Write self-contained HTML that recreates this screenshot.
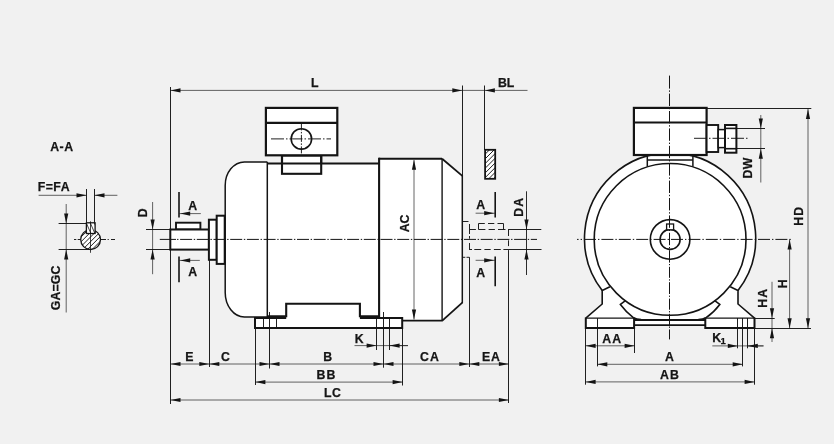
<!DOCTYPE html>
<html><head><meta charset="utf-8"><title>Motor dimension drawing</title>
<style>
html,body{margin:0;padding:0;background:#f1f1f1;}
svg{display:block;will-change:transform;}
text{font-family:"Liberation Sans",Arial,Helvetica,sans-serif;font-weight:bold;fill:#151515;stroke:#151515;stroke-width:0.25px;}
</style></head><body>
<svg width="834" height="444" viewBox="0 0 834 444">
<rect width="834" height="444" fill="#f1f1f1"/>
<text x="50.19" y="151.40" font-size="12.3" letter-spacing="0.53">A-A</text>
<text x="37.78" y="190.70" font-size="12.3" letter-spacing="0.45">F=FA</text>
<line x1="38.6" y1="195.3" x2="86.5" y2="195.3" stroke="#141414" stroke-width="0.65" stroke-linecap="butt"/>
<polygon points="86.50,195.30 76.50,193.20 76.50,197.40" fill="#141414"/>
<line x1="94.5" y1="195.3" x2="117.4" y2="195.3" stroke="#141414" stroke-width="0.65" stroke-linecap="butt"/>
<polygon points="94.50,195.30 104.50,193.20 104.50,197.40" fill="#141414"/>
<defs><clipPath id="cpc"><circle cx="90.6" cy="239.6" r="9.9"/></clipPath><clipPath id="cpk"><rect x="86.4" y="222.8" width="8.7" height="10.7"/></clipPath><clipPath id="cpb"><rect x="485.1" y="149.8" width="10.1" height="29"/></clipPath></defs>
<circle cx="90.6" cy="239.6" r="9.9" fill="#fff" stroke="none" stroke-width="0"/>
<path d="M44.00,260 L89.00,215 M48.70,260 L93.70,215 M53.40,260 L98.40,215 M58.10,260 L103.10,215 M62.80,260 L107.80,215 M67.50,260 L112.50,215 M72.20,260 L117.20,215 M76.90,260 L121.90,215 M81.60,260 L126.60,215 M86.30,260 L131.30,215" stroke="#141414" stroke-width="0.95" clip-path="url(#cpc)" fill="none"/>
<circle cx="90.6" cy="239.6" r="9.9" fill="none" stroke="#141414" stroke-width="1.3"/>
<rect x="86.4" y="222.8" width="8.7" height="10.7" fill="#fff" stroke="none" stroke-width="0"/>
<path d="M69.50,212 L83.50,244 M73.50,212 L87.50,244 M77.50,212 L91.50,244 M81.50,212 L95.50,244 M85.50,212 L99.50,244 M89.50,212 L103.50,244 M93.50,212 L107.50,244 M97.50,212 L111.50,244" stroke="#141414" stroke-width="0.8" clip-path="url(#cpk)" fill="none"/>
<rect x="86.4" y="222.8" width="8.7" height="10.7" fill="none" stroke="#141414" stroke-width="1.3"/>
<line x1="86.5" y1="189" x2="86.5" y2="222.8" stroke="#141414" stroke-width="0.95" stroke-linecap="butt"/>
<line x1="94.5" y1="189" x2="94.5" y2="222.8" stroke="#141414" stroke-width="0.95" stroke-linecap="butt"/>
<line x1="58.6" y1="223.5" x2="86.4" y2="223.5" stroke="#141414" stroke-width="0.95" stroke-linecap="butt"/>
<line x1="58.6" y1="249.5" x2="90.5" y2="249.5" stroke="#141414" stroke-width="0.95" stroke-linecap="butt"/>
<line x1="66.2" y1="204" x2="66.2" y2="312.5" stroke="#141414" stroke-width="0.65" stroke-linecap="butt"/>
<polygon points="66.20,223.50 64.10,213.50 68.30,213.50" fill="#141414"/>
<polygon points="66.20,249.50 64.10,259.50 68.30,259.50" fill="#141414"/>
<line x1="74" y1="239.5" x2="76.3" y2="239.5" stroke="#141414" stroke-width="0.95" stroke-linecap="butt"/>
<line x1="77.7" y1="239.5" x2="80.6" y2="239.5" stroke="#141414" stroke-width="0.95" stroke-linecap="butt"/>
<line x1="100.6" y1="239.5" x2="106" y2="239.5" stroke="#141414" stroke-width="0.95" stroke-linecap="butt"/>
<line x1="107.6" y1="239.5" x2="108.8" y2="239.5" stroke="#141414" stroke-width="0.95" stroke-linecap="butt"/>
<line x1="111" y1="239.5" x2="115" y2="239.5" stroke="#141414" stroke-width="0.95" stroke-linecap="butt"/>
<line x1="90.5" y1="221.3" x2="90.5" y2="252.8" stroke="#141414" stroke-width="0.8" stroke-linecap="butt"/>
<text x="60.00" y="310.30" font-size="12.3" letter-spacing="0.14" transform="rotate(-90 60.00 310.30)">GA=GC</text>
<line x1="170.5" y1="87" x2="170.5" y2="404" stroke="#141414" stroke-width="0.95" stroke-linecap="butt"/>
<line x1="209.5" y1="259.7" x2="209.5" y2="367" stroke="#141414" stroke-width="0.95" stroke-linecap="butt"/>
<line x1="462.5" y1="85.5" x2="462.5" y2="176" stroke="#141414" stroke-width="0.95" stroke-linecap="butt"/>
<line x1="484.5" y1="85.5" x2="484.5" y2="150" stroke="#141414" stroke-width="0.95" stroke-linecap="butt"/>
<line x1="170.5" y1="90.4" x2="462.3" y2="90.4" stroke="#141414" stroke-width="0.65" stroke-linecap="butt"/>
<polygon points="170.50,90.40 180.50,88.30 180.50,92.50" fill="#141414"/>
<polygon points="462.30,90.40 452.30,88.30 452.30,92.50" fill="#141414"/>
<line x1="462.3" y1="90.4" x2="527.5" y2="90.4" stroke="#141414" stroke-width="0.65" stroke-linecap="butt"/>
<polygon points="484.90,90.40 494.90,88.30 494.90,92.50" fill="#141414"/>
<text x="311.12" y="86.50" font-size="12.3">L</text>
<text x="497.98" y="86.60" font-size="12.3" letter-spacing="0.01">BL</text>
<rect x="485.1" y="149.8" width="10.1" height="29.0" fill="#fff" stroke="none" stroke-width="0"/>
<path d="M480.1,145.10 L505.1,120.10 M480.1,149.80 L505.1,124.80 M480.1,154.50 L505.1,129.50 M480.1,159.20 L505.1,134.20 M480.1,163.90 L505.1,138.90 M480.1,168.60 L505.1,143.60 M480.1,173.30 L505.1,148.30 M480.1,178.00 L505.1,153.00 M480.1,182.70 L505.1,157.70 M480.1,187.40 L505.1,162.40 M480.1,192.10 L505.1,167.10 M480.1,196.80 L505.1,171.80" stroke="#141414" stroke-width="0.95" clip-path="url(#cpb)" fill="none"/>
<rect x="485.1" y="149.8" width="10.1" height="29.0" fill="none" stroke="#141414" stroke-width="1.8"/>
<rect x="282" y="155.3" width="39.2" height="18.5" fill="#fff" stroke="#141414" stroke-width="2.1"/>
<path d="M267.3,161.9 L244.4,161.9 A19.3,23.5 0 0 0 225.2,185.4 L225.2,292.5 A19.3,24.5 0 0 0 244.4,317 L267.3,317 Z" fill="#fff" stroke="none" stroke-width="0" stroke-linejoin="miter" />
<path d="M267.3,161.9 L244.4,161.9 A19.3,23.5 0 0 0 225.2,185.4 L225.2,292.5 A19.3,24.5 0 0 0 244.4,317 L267.3,317" fill="none" stroke="#141414" stroke-width="1.5" stroke-linejoin="miter" />
<path d="M267.3,163.5 L379.1,163.5 L379.1,316.4 L359.9,316.4 L359.9,303.7 L286.2,303.7 L286.2,316.4 L267.3,316.4 Z" fill="#fff" stroke="none" stroke-width="0" stroke-linejoin="miter" />
<rect x="255" y="317.6" width="147.2" height="10.4" fill="#fff"/>
<rect x="286.2" y="303.7" width="73.7" height="20" fill="#fff"/>
<path d="M379.1,158.7 L442.1,158.7 L462.3,175.9 L462.3,302.6 L442.3,320.6 L402.2,320.6 L402.2,317.8 L379.1,317.8 Z" fill="#fff" stroke="none" stroke-width="0" stroke-linejoin="miter" />
<path d="M379.1,158.7 L442.1,158.7" fill="none" stroke="#141414" stroke-width="2.0" stroke-linejoin="miter" />
<path d="M442.1,158.7 L462.3,175.9" fill="none" stroke="#141414" stroke-width="1.8" stroke-linejoin="miter" />
<path d="M462.3,175.2 L462.3,303.2" fill="none" stroke="#141414" stroke-width="1.5" stroke-linejoin="miter" />
<path d="M462.3,302.6 L442.3,320.6" fill="none" stroke="#141414" stroke-width="1.8" stroke-linejoin="miter" />
<path d="M442.8,320.6 L402.2,320.6" fill="none" stroke="#141414" stroke-width="1.9" stroke-linejoin="miter" />
<line x1="442.1" y1="158.7" x2="442.1" y2="320.6" stroke="#141414" stroke-width="1.4" stroke-linecap="butt"/>
<line x1="267.3" y1="163.5" x2="379.1" y2="163.5" stroke="#141414" stroke-width="2.1" stroke-linecap="butt"/>
<line x1="267.3" y1="161.9" x2="267.3" y2="317" stroke="#141414" stroke-width="1.5" stroke-linecap="butt"/>
<path d="M267.3,316.3 L286.2,316.3 L286.2,303.7 L359.9,303.7 L359.9,316.3 L379.1,316.3" fill="none" stroke="#141414" stroke-width="2.1" stroke-linejoin="miter" />
<line x1="379.1" y1="157.7" x2="379.1" y2="318.6" stroke="#141414" stroke-width="2.1" stroke-linecap="butt"/>
<path d="M286.2,318.0 L255,318.0 L255,328 L402.2,328 L402.2,318.0 L359.9,318.0" fill="none" stroke="#141414" stroke-width="2.0" stroke-linejoin="miter" />
<line x1="263.5" y1="317.8" x2="263.5" y2="328" stroke="#141414" stroke-width="0.95" stroke-linecap="butt"/>
<line x1="276.5" y1="317.8" x2="276.5" y2="328" stroke="#141414" stroke-width="0.95" stroke-linecap="butt"/>
<line x1="269.5" y1="312" x2="269.5" y2="368.5" stroke="#141414" stroke-width="0.95" stroke-linecap="butt"/>
<line x1="255.5" y1="328" x2="255.5" y2="385" stroke="#141414" stroke-width="0.95" stroke-linecap="butt"/>
<line x1="402.5" y1="328" x2="402.5" y2="385.5" stroke="#141414" stroke-width="0.95" stroke-linecap="butt"/>
<line x1="376.5" y1="317.8" x2="376.5" y2="350" stroke="#141414" stroke-width="0.95" stroke-linecap="butt"/>
<line x1="389.5" y1="317.8" x2="389.5" y2="350" stroke="#141414" stroke-width="0.95" stroke-linecap="butt"/>
<line x1="383.5" y1="312" x2="383.5" y2="367.7" stroke="#141414" stroke-width="0.95" stroke-linecap="butt"/>
<rect x="282" y="155.3" width="39.2" height="18.5" fill="none" stroke="#141414" stroke-width="2.1"/>
<rect x="265.9" y="107.9" width="71.4" height="47.4" fill="#fff" stroke="#141414" stroke-width="2.2"/>
<line x1="265.9" y1="122.9" x2="337.3" y2="122.9" stroke="#141414" stroke-width="2.1" stroke-linecap="butt"/>
<circle cx="301.4" cy="138.9" r="10.2" fill="none" stroke="#141414" stroke-width="1.6"/>
<line x1="271" y1="138.9" x2="331" y2="138.9" stroke="#141414" stroke-width="0.95" stroke-dasharray="13 2 1.5 2" stroke-linecap="butt"/>
<line x1="301.4" y1="123.4" x2="301.4" y2="155" stroke="#141414" stroke-width="0.95" stroke-dasharray="7 1.5 1.5 1.5" stroke-linecap="butt"/>
<rect x="176" y="222.7" width="24.4" height="6.8" fill="#fff" stroke="#141414" stroke-width="1.9"/>
<rect x="170.3" y="229.5" width="38.6" height="20.1" fill="#fff" stroke="#141414" stroke-width="2.0"/>
<rect x="208.9" y="219.7" width="7.8" height="40.1" fill="#fff" stroke="#141414" stroke-width="2.0"/>
<rect x="216.7" y="215.7" width="8.0" height="48.2" fill="#fff" stroke="#141414" stroke-width="2.0"/>
<line x1="159.8" y1="239.4" x2="176" y2="239.4" stroke="#141414" stroke-width="1.0" stroke-linecap="butt"/>
<line x1="175.4" y1="239.4" x2="537" y2="239.4" stroke="#141414" stroke-width="1.0" stroke-dasharray="0 1.65 1.4 1.65 12 0" stroke-linecap="butt"/>
<line x1="414.0" y1="160" x2="414.0" y2="319.5" stroke="#141414" stroke-width="0.65" stroke-linecap="butt"/>
<polygon points="414.00,159.80 411.90,169.80 416.10,169.80" fill="#141414"/>
<polygon points="414.00,319.60 411.90,309.60 416.10,309.60" fill="#141414"/>
<text x="409.20" y="232.31" font-size="12.3" letter-spacing="-0.12" transform="rotate(-90 409.20 232.31)">AC</text>
<line x1="146" y1="229.5" x2="170.5" y2="229.5" stroke="#141414" stroke-width="0.95" stroke-linecap="butt"/>
<line x1="146" y1="249.5" x2="170.5" y2="249.5" stroke="#141414" stroke-width="0.95" stroke-linecap="butt"/>
<line x1="152.6" y1="202" x2="152.6" y2="274.2" stroke="#141414" stroke-width="0.65" stroke-linecap="butt"/>
<polygon points="152.60,229.50 150.50,219.50 154.70,219.50" fill="#141414"/>
<polygon points="152.60,249.50 150.50,259.50 154.70,259.50" fill="#141414"/>
<text x="147.50" y="217.19" font-size="12.3" transform="rotate(-90 147.50 217.19)">D</text>
<line x1="179.0" y1="192" x2="179.0" y2="217.4" stroke="#141414" stroke-width="1.6" stroke-linecap="butt"/>
<line x1="179.3" y1="213.6" x2="200.8" y2="213.6" stroke="#141414" stroke-width="0.65" stroke-linecap="butt"/>
<polygon points="180.20,213.60 190.20,211.50 190.20,215.70" fill="#141414"/>
<text x="188.27" y="209.60" font-size="12.3">A</text>
<line x1="179.0" y1="256.4" x2="179.0" y2="282.3" stroke="#141414" stroke-width="1.6" stroke-linecap="butt"/>
<line x1="179.3" y1="260.4" x2="199.8" y2="260.4" stroke="#141414" stroke-width="0.65" stroke-linecap="butt"/>
<polygon points="180.20,260.40 190.20,258.30 190.20,262.50" fill="#141414"/>
<text x="188.27" y="276.40" font-size="12.3">A</text>
<line x1="495.2" y1="192" x2="495.2" y2="217.5" stroke="#141414" stroke-width="1.6" stroke-linecap="butt"/>
<line x1="475.6" y1="213.2" x2="495.1" y2="213.2" stroke="#141414" stroke-width="0.65" stroke-linecap="butt"/>
<polygon points="494.20,213.20 484.20,211.10 484.20,215.30" fill="#141414"/>
<text x="476.27" y="208.80" font-size="12.3">A</text>
<line x1="495.2" y1="256.4" x2="495.2" y2="286.3" stroke="#141414" stroke-width="1.6" stroke-linecap="butt"/>
<line x1="475.6" y1="260.3" x2="495.1" y2="260.3" stroke="#141414" stroke-width="0.65" stroke-linecap="butt"/>
<polygon points="494.20,260.30 484.20,258.20 484.20,262.40" fill="#141414"/>
<text x="476.27" y="276.50" font-size="12.3">A</text>
<line x1="462.3" y1="221.5" x2="468.5" y2="221.5" stroke="#141414" stroke-width="0.95" stroke-linecap="butt"/>
<line x1="462.3" y1="257.3" x2="469.5" y2="257.3" stroke="#141414" stroke-width="0.95" stroke-dasharray="3 1.2 2.8 5" stroke-linecap="butt"/>
<line x1="469.5" y1="224" x2="469.5" y2="257.2" stroke="#141414" stroke-width="0.95" stroke-dasharray="10 2 2.7 4.3 7 30" stroke-linecap="butt"/>
<line x1="469.5" y1="257.2" x2="469.5" y2="367" stroke="#141414" stroke-width="0.95" stroke-linecap="butt"/>
<line x1="470" y1="229.5" x2="508.5" y2="229.5" stroke="#141414" stroke-width="0.95" stroke-dasharray="5.9 2.6 6.9 3.2 6.3 3.1 7.5 30" stroke-linecap="butt"/>
<line x1="474.3" y1="249.5" x2="508.5" y2="249.5" stroke="#141414" stroke-width="0.95" stroke-dasharray="6.9 3.2 6.3 3.2 6.9 2.6 5 30" stroke-linecap="butt"/>
<line x1="470" y1="249.5" x2="472" y2="249.5" stroke="#141414" stroke-width="0.95" stroke-linecap="butt"/>
<path d="M478.5,229.5 L478.5,223.5 L503.5,223.5 L503.5,229.5" fill="none" stroke="#141414" stroke-width="0.95" stroke-linejoin="miter" stroke-dasharray="6 0 6.3 3.2 6.3 3.2 6.3 0 6"/>
<line x1="508.5" y1="229.5" x2="508.5" y2="250.1" stroke="#141414" stroke-width="0.95" stroke-dasharray="6.5 4.3 5.8 30" stroke-linecap="butt"/>
<line x1="508.5" y1="250.1" x2="508.5" y2="403" stroke="#141414" stroke-width="0.95" stroke-linecap="butt"/>
<line x1="508.1" y1="229.5" x2="541.3" y2="229.5" stroke="#141414" stroke-width="0.95" stroke-linecap="butt"/>
<line x1="508.1" y1="249.5" x2="541.5" y2="249.5" stroke="#141414" stroke-width="0.95" stroke-linecap="butt"/>
<line x1="526.5" y1="191.3" x2="526.5" y2="275" stroke="#141414" stroke-width="0.9" stroke-linecap="butt"/>
<polygon points="526.50,229.50 524.40,219.50 528.60,219.50" fill="#141414"/>
<polygon points="526.50,249.50 524.40,259.50 528.60,259.50" fill="#141414"/>
<text x="523.20" y="216.72" font-size="12.3" letter-spacing="1.08" transform="rotate(-90 523.20 216.72)">DA</text>
<line x1="170.5" y1="364.0" x2="508.9" y2="364.0" stroke="#141414" stroke-width="0.65" stroke-linecap="butt"/>
<polygon points="170.50,364.00 180.50,361.90 180.50,366.10" fill="#141414"/>
<polygon points="209.30,364.00 199.30,361.90 199.30,366.10" fill="#141414"/>
<polygon points="209.30,364.00 219.30,361.90 219.30,366.10" fill="#141414"/>
<polygon points="269.50,364.00 259.50,361.90 259.50,366.10" fill="#141414"/>
<polygon points="269.50,364.00 279.50,361.90 279.50,366.10" fill="#141414"/>
<polygon points="383.50,364.00 373.50,361.90 373.50,366.10" fill="#141414"/>
<polygon points="383.50,364.00 393.50,361.90 393.50,366.10" fill="#141414"/>
<polygon points="469.30,364.00 459.30,361.90 459.30,366.10" fill="#141414"/>
<polygon points="469.30,364.00 479.30,361.90 479.30,366.10" fill="#141414"/>
<polygon points="508.90,364.00 498.90,361.90 498.90,366.10" fill="#141414"/>
<text x="185.13" y="360.60" font-size="12.3">E</text>
<text x="221.02" y="360.60" font-size="12.3">C</text>
<text x="323.13" y="361.40" font-size="12.3">B</text>
<text x="419.90" y="360.80" font-size="12.3" letter-spacing="1.30">CA</text>
<text x="482.08" y="360.80" font-size="12.3" letter-spacing="0.76">EA</text>
<line x1="255.4" y1="382.1" x2="402.6" y2="382.1" stroke="#141414" stroke-width="0.65" stroke-linecap="butt"/>
<polygon points="255.40,382.10 265.40,380.00 265.40,384.20" fill="#141414"/>
<polygon points="402.60,382.10 392.60,380.00 392.60,384.20" fill="#141414"/>
<text x="316.58" y="378.90" font-size="12.3" letter-spacing="0.92">BB</text>
<line x1="170.5" y1="400" x2="508.9" y2="400" stroke="#141414" stroke-width="0.65" stroke-linecap="butt"/>
<polygon points="170.50,400.00 180.50,397.90 180.50,402.10" fill="#141414"/>
<polygon points="508.90,400.00 498.90,397.90 498.90,402.10" fill="#141414"/>
<text x="323.88" y="396.90" font-size="12.3" letter-spacing="0.56">LC</text>
<line x1="354.5" y1="345.6" x2="408" y2="345.6" stroke="#141414" stroke-width="0.65" stroke-linecap="butt"/>
<polygon points="376.60,345.60 366.60,343.50 366.60,347.70" fill="#141414"/>
<line x1="389.6" y1="345.6" x2="408" y2="345.6" stroke="#141414" stroke-width="0.65" stroke-linecap="butt"/>
<polygon points="389.60,345.60 399.60,343.50 399.60,347.70" fill="#141414"/>
<text x="354.85" y="342.70" font-size="12.3">K</text>
<path d="M602.2,290.6 L602.2,304 L585.8,318.2 L585.8,327.9 L634.1,327.9 L634.1,325.1 L705.3,325.1 L705.3,327.9 L754.5,327.9 L754.5,318.2 L738.0,304 L738.0,290.6 A85.6,85.6 0 1 0 602.2,290.6 Z" fill="#fff" stroke="none" stroke-width="0" stroke-linejoin="miter" />
<rect x="647.3" y="155" width="45.6" height="12" fill="#fff"/>
<path d="M602.2,290.6 A85.6,85.6 0 1 1 738.0,290.6" fill="none" stroke="#141414" stroke-width="1.6" stroke-linejoin="miter" />
<circle cx="670.1" cy="239.4" r="75.9" fill="none" stroke="#141414" stroke-width="1.6"/>
<path d="M609.9,286.8 L602.2,290.6 L602.2,304 L585.8,318.2" fill="none" stroke="#141414" stroke-width="1.6" stroke-linejoin="miter" />
<path d="M730.3,286.8 L738.0,290.6 L738.0,304 L754.5,318.2" fill="none" stroke="#141414" stroke-width="1.6" stroke-linejoin="miter" />
<path d="M625.5,300.6 L620.4,304.4 Q626.5,312.5 633.3000000000001,317.59999999999997 Q636.6,319.4 641.1,319.6" fill="none" stroke="#141414" stroke-width="1.6" stroke-linejoin="miter" />
<path d="M714.7,300.6 L719.8,304.4 Q713.7,312.5 706.0999999999999,317.59999999999997 Q702.8,319.4 698.3,319.6" fill="none" stroke="#141414" stroke-width="1.6" stroke-linejoin="miter" />
<line x1="585.8" y1="318.2" x2="634.1" y2="318.2" stroke="#141414" stroke-width="1.3" stroke-linecap="butt"/>
<path d="M585.8,317.59999999999997 L585.8,327.9 L634.1,327.9 L634.1,317.59999999999997" fill="none" stroke="#141414" stroke-width="2.0" stroke-linejoin="miter" />
<line x1="705.3" y1="318.2" x2="754.5" y2="318.2" stroke="#141414" stroke-width="1.3" stroke-linecap="butt"/>
<path d="M705.3,317.59999999999997 L705.3,327.9 L754.5,327.9 L754.5,317.59999999999997" fill="none" stroke="#141414" stroke-width="2.0" stroke-linejoin="miter" />
<line x1="597.5" y1="318.2" x2="597.5" y2="327.9" stroke="#141414" stroke-width="0.95" stroke-linecap="butt"/>
<line x1="634.1" y1="320.0" x2="705.3" y2="320.0" stroke="#141414" stroke-width="2.0" stroke-linecap="butt"/>
<line x1="634.1" y1="325.1" x2="705.3" y2="325.1" stroke="#141414" stroke-width="1.9" stroke-linecap="butt"/>
<line x1="647.3" y1="155" x2="647.3" y2="166.8" stroke="#141414" stroke-width="1.5" stroke-linecap="butt"/>
<line x1="692.9" y1="155" x2="692.9" y2="166.8" stroke="#141414" stroke-width="1.5" stroke-linecap="butt"/>
<line x1="647.3" y1="160" x2="692.9" y2="160" stroke="#141414" stroke-width="1.5" stroke-linecap="butt"/>
<rect x="633.9" y="107.9" width="72.7" height="47.1" fill="#fff" stroke="#141414" stroke-width="2.2"/>
<line x1="633.9" y1="122.5" x2="706.6" y2="122.5" stroke="#141414" stroke-width="2.1" stroke-linecap="butt"/>
<rect x="706.6" y="125" width="11.6" height="27" fill="#fff" stroke="#141414" stroke-width="1.9"/>
<rect x="718.2" y="129.6" width="6.8" height="18.0" fill="#fff" stroke="#141414" stroke-width="1.5"/>
<rect x="725" y="125" width="11.4" height="27.7" fill="#fff" stroke="#141414" stroke-width="2.0"/>
<line x1="725" y1="128.4" x2="736.4" y2="128.4" stroke="#141414" stroke-width="1.6" stroke-linecap="butt"/>
<line x1="725" y1="148.7" x2="736.4" y2="148.7" stroke="#141414" stroke-width="1.6" stroke-linecap="butt"/>
<line x1="694" y1="138.3" x2="748" y2="138.3" stroke="#141414" stroke-width="0.95" stroke-dasharray="13 2 1.5 2" stroke-linecap="butt"/>
<line x1="736.4" y1="128.5" x2="765" y2="128.5" stroke="#141414" stroke-width="0.95" stroke-linecap="butt"/>
<line x1="736.4" y1="148.5" x2="765" y2="148.5" stroke="#141414" stroke-width="0.95" stroke-linecap="butt"/>
<line x1="760.8" y1="115" x2="760.8" y2="182.5" stroke="#141414" stroke-width="0.65" stroke-linecap="butt"/>
<polygon points="760.80,128.40 758.70,118.40 762.90,118.40" fill="#141414"/>
<polygon points="760.80,148.70 758.70,158.70 762.90,158.70" fill="#141414"/>
<text x="752.50" y="178.62" font-size="12.3" letter-spacing="0.44" transform="rotate(-90 752.50 178.62)">DW</text>
<circle cx="670.1" cy="239.4" r="19.8" fill="none" stroke="#141414" stroke-width="1.6"/>
<circle cx="670.1" cy="239.4" r="10" fill="none" stroke="#141414" stroke-width="1.6"/>
<rect x="666.6" y="224" width="7.0" height="5.8" fill="#fff" stroke="#141414" stroke-width="1.3"/>
<line x1="669.5" y1="75.6" x2="669.5" y2="262.6" stroke="#141414" stroke-width="1.0" stroke-dasharray="13 1.8 1.4 1.8 12.4 1.8 1.4 1.8 12.4 1.8 1.4 1.8 12.4 1.8 1.4 1.8 12.4 1.8 1.4 1.8 12.4 1.8 1.4 1.8 12.4 1.8 1.4 1.8 12.4 1.8 1.4 1.8 12.4 1.8 1.4 1.8 12.4 1.8 1.4 1.8 12.4 1.8 1.4 1.8" stroke-linecap="butt"/>
<path d="M669.5,264.0 V265.2 M669.5,266.8 V277.8 M669.5,279.3 V280.6 M669.5,282.2 V294 M669.5,295.6 V296.9 M669.5,298.6 V309.7 M669.5,311.1 V312.4 M669.5,313.8 V325 M669.5,326.5 V327.8 M669.5,329.4 V339.4" fill="none" stroke="#141414" stroke-width="1.0" stroke-linejoin="miter" />
<line x1="577" y1="239.4" x2="792.8" y2="239.4" stroke="#141414" stroke-width="1.0" stroke-dasharray="1.6 2 1.4 2 12 2 1.4 2 12 2 1.4 2 12 2 1.4 2 12 2 1.4 2 12 2 1.4 2 12 2 1.4 2 12 2 1.4 2 12 2 1.4 2 12 2 1.4 2 12 2 1.4 2 12 2 1.4 2 12 2 1.4 2 12 2 1.4 2" stroke-linecap="butt"/>
<line x1="706.6" y1="108.5" x2="811.3" y2="108.5" stroke="#141414" stroke-width="0.95" stroke-linecap="butt"/>
<line x1="754.6" y1="328.5" x2="811" y2="328.5" stroke="#141414" stroke-width="0.95" stroke-linecap="butt"/>
<line x1="808" y1="108.9" x2="808" y2="328.2" stroke="#141414" stroke-width="0.65" stroke-linecap="butt"/>
<polygon points="808.00,108.90 805.90,118.90 810.10,118.90" fill="#141414"/>
<polygon points="808.00,328.20 805.90,318.20 810.10,318.20" fill="#141414"/>
<text x="803.20" y="225.82" font-size="12.3" letter-spacing="1.17" transform="rotate(-90 803.20 225.82)">HD</text>
<line x1="789.6" y1="239.4" x2="789.6" y2="328.2" stroke="#141414" stroke-width="0.65" stroke-linecap="butt"/>
<polygon points="789.60,239.40 787.50,249.40 791.70,249.40" fill="#141414"/>
<polygon points="789.60,328.20 787.50,318.20 791.70,318.20" fill="#141414"/>
<text x="786.60" y="288.14" font-size="12.3" transform="rotate(-90 786.60 288.14)">H</text>
<line x1="754.6" y1="318.5" x2="774.7" y2="318.5" stroke="#141414" stroke-width="0.95" stroke-linecap="butt"/>
<line x1="772" y1="281.8" x2="772" y2="342" stroke="#141414" stroke-width="0.65" stroke-linecap="butt"/>
<polygon points="772.00,318.20 769.90,308.20 774.10,308.20" fill="#141414"/>
<polygon points="772.00,328.20 769.90,338.20 774.10,338.20" fill="#141414"/>
<text x="767.20" y="307.62" font-size="12.3" letter-spacing="0.98" transform="rotate(-90 767.20 307.62)">HA</text>
<line x1="737.5" y1="318" x2="737.5" y2="348.3" stroke="#141414" stroke-width="0.95" stroke-linecap="butt"/>
<line x1="747.5" y1="318" x2="747.5" y2="348.3" stroke="#141414" stroke-width="0.95" stroke-linecap="butt"/>
<line x1="742.5" y1="318" x2="742.5" y2="366.4" stroke="#141414" stroke-width="0.95" stroke-linecap="butt"/>
<line x1="754.5" y1="318" x2="754.5" y2="384.7" stroke="#141414" stroke-width="0.95" stroke-linecap="butt"/>
<line x1="585.5" y1="328.4" x2="585.5" y2="384.7" stroke="#141414" stroke-width="0.95" stroke-linecap="butt"/>
<line x1="597.5" y1="328.4" x2="597.5" y2="366.4" stroke="#141414" stroke-width="0.95" stroke-linecap="butt"/>
<line x1="634.5" y1="328.4" x2="634.5" y2="353" stroke="#141414" stroke-width="0.95" stroke-linecap="butt"/>
<line x1="712.3" y1="345.9" x2="763.5" y2="345.9" stroke="#141414" stroke-width="0.65" stroke-linecap="butt"/>
<polygon points="737.80,345.90 727.80,343.80 727.80,348.00" fill="#141414"/>
<line x1="747.8" y1="345.9" x2="763.5" y2="345.9" stroke="#141414" stroke-width="0.65" stroke-linecap="butt"/>
<polygon points="747.80,345.90 757.80,343.80 757.80,348.00" fill="#141414"/>
<text x="712.15" y="341.50" font-size="12.3">K</text>
<text x="720.39" y="343.80" font-size="9.5">1</text>
<line x1="585.6" y1="345.8" x2="634.6" y2="345.8" stroke="#141414" stroke-width="0.65" stroke-linecap="butt"/>
<polygon points="585.60,345.80 595.60,343.70 595.60,347.90" fill="#141414"/>
<polygon points="634.60,345.80 624.60,343.70 624.60,347.90" fill="#141414"/>
<text x="602.29" y="342.50" font-size="12.3" letter-spacing="1.17">AA</text>
<line x1="597.3" y1="364.3" x2="742.7" y2="364.3" stroke="#141414" stroke-width="0.65" stroke-linecap="butt"/>
<polygon points="597.30,364.30 607.30,362.20 607.30,366.40" fill="#141414"/>
<polygon points="742.70,364.30 732.70,362.20 732.70,366.40" fill="#141414"/>
<text x="664.92" y="360.60" font-size="12.3">A</text>
<line x1="585.6" y1="381.9" x2="754.6" y2="381.9" stroke="#141414" stroke-width="0.65" stroke-linecap="butt"/>
<polygon points="585.60,381.90 595.60,379.80 595.60,384.00" fill="#141414"/>
<polygon points="754.60,381.90 744.60,379.80 744.60,384.00" fill="#141414"/>
<text x="659.89" y="378.90" font-size="12.3" letter-spacing="1.30">AB</text>
</svg>
</body></html>
